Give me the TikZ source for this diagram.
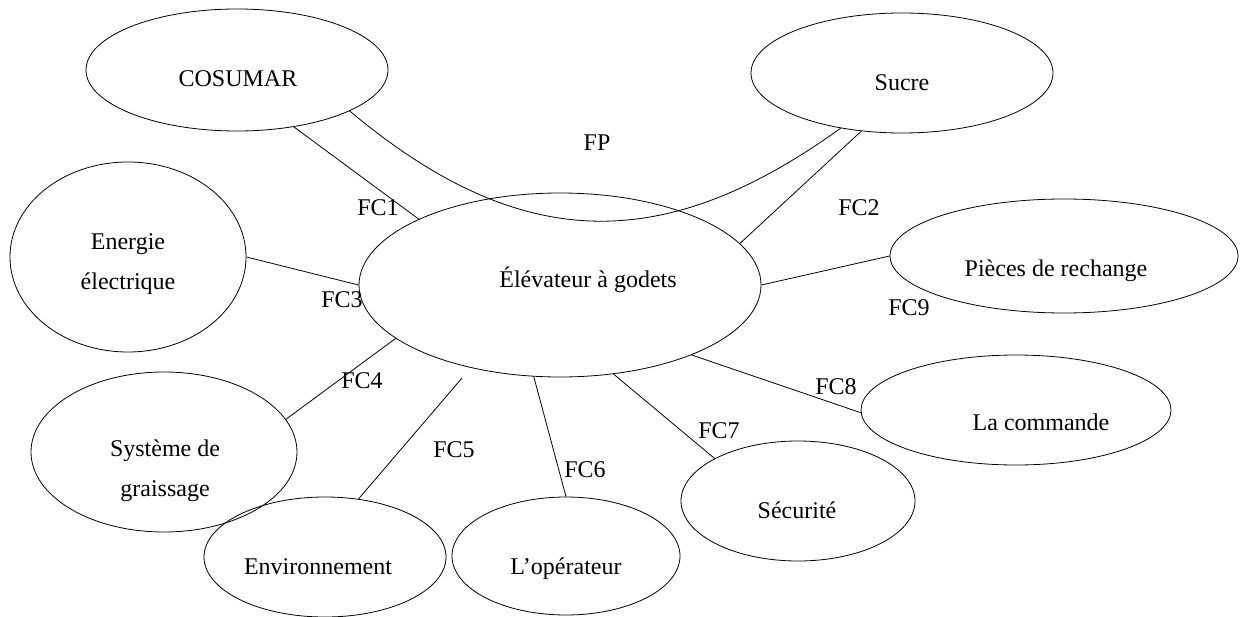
\documentclass[tikz,border=0pt]{standalone}
\usepackage{fontspec}
\setmainfont{Liberation Serif}
\usetikzlibrary{shapes.geometric}
\begin{document}
\begin{tikzpicture}[x=1pt,y=-1pt,
  every node/.style={font=\fontsize{24}{40}\selectfont},
  blob/.style={draw, ellipse, inner sep=0pt, line width=0.8pt},
  inside/.style={align=center, inner sep=0pt},
  fc/.style={inner sep=0pt},
  link/.style={line width=0.8pt}]
\useasboundingbox (0,0) rectangle (1241,617);

% outer elements
\node[blob, minimum width=302pt, minimum height=122pt,
  label={[inside,xshift=1pt,yshift=-9pt]center:COSUMAR}] (cos) at (237,70) {};
\node[blob, minimum width=302pt, minimum height=120pt,
  label={[inside,yshift=-10pt]center:Sucre}] (sucre) at (902,73) {};
\node[blob, minimum width=402pt, minimum height=184pt,
  label={[inside,xshift=28pt,yshift=5pt]center:Élévateur à godets}] (elev) at (560,285) {};
\node[blob, minimum width=236pt, minimum height=190pt,
  label={[inside,yshift=-7pt]center:Energie\\électrique}] (energie) at (128,257) {};
\node[blob, minimum width=348pt, minimum height=114pt,
  label={[inside,xshift=-8pt,yshift=-15pt]center:Pièces de rechange}] (piece) at (1064,256) {};
\node[blob, minimum width=266pt, minimum height=160pt,
  label={[inside,xshift=1pt,yshift=-19pt]center:Système de\\graissage}] (syst) at (164,452) {};
\node[blob, minimum width=242pt, minimum height=120pt,
  label={[inside,xshift=-7pt,yshift=-10pt]center:Environnement}] (env) at (325,557) {};
\node[blob, minimum width=228pt, minimum height=118pt,
  label={[inside,yshift=-13pt]center:L’opérateur}] (oper) at (566,556) {};
\node[blob, minimum width=234pt, minimum height=120pt,
  label={[inside,xshift=-1pt,yshift=-9pt]center:Sécurité}] (secu) at (798,501) {};
\node[blob, minimum width=310pt, minimum height=110pt,
  label={[inside,xshift=25pt,yshift=-12pt]center:La commande}] (cmd) at (1016,410) {};

% connectors
\draw[link] (cos.-45) -- (elev.155);
\draw[link] (cos.-20) .. controls (524,257) and (667,253) .. (sucre.222);
\draw[link] (sucre.235) -- (elev.13);
\draw[link] (energie.east) -- (elev.west);
\draw[link] (elev.198) -- (syst.15);
\coordinate (fc5end) at (462,378);
\draw[link] (fc5end) -- (env.60);
\draw[link] (elev.254) -- (oper.north);
\draw[link] (elev.301) -- (secu.153);
\draw[link] (elev.332) -- (cmd.181);
\draw[link] (elev.east) -- (piece.west);

% function labels
\node[fc] (fp) at (597,143) {FP};
\node[fc] (fc1) at (378,208) {FC1};
\node[fc] (fc2) at (859,208) {FC2};
\node[fc] (fc3) at (342,300) {FC3};
\node[fc] (fc4) at (362,381) {FC4};
\node[fc] (fc5) at (454,450) {FC5};
\node[fc] (fc6) at (585,470) {FC6};
\node[fc] (fc7) at (719,431) {FC7};
\node[fc] (fc8) at (836,387) {FC8};
\node[fc] (fc9) at (909,308) {FC9};
\end{tikzpicture}
\end{document}
